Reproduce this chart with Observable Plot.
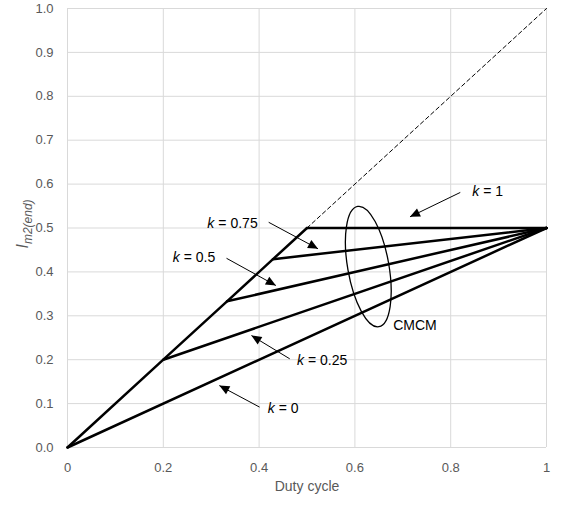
<!DOCTYPE html>
<html>
<head>
<meta charset="utf-8">
<script src="https://cdn.jsdelivr.net/npm/d3@7"></script>
<script src="https://cdn.jsdelivr.net/npm/@observablehq/plot@0.6"></script>
<style>
  html, body { margin: 0; padding: 0; background: #fff; }
  #chart { width: 563px; height: 506px; }
</style>
</head>
<body>
<div id="chart"></div>
<script>
// ---- data ----
const kLabels = ["0", "0.25", "0.5", "0.75", "1"];
const startDuty = [0, 0.2, 0.333, 0.429, 0.5];
const startCurrent = [0, 0.2, 0.333, 0.429, 0.5];
const endDuty = [1, 1, 1, 1, 1];
const endCurrent = [0.5, 0.5, 0.5, 0.5, 0.5];
const idealDuty = [0.5, 1];
const idealCurrent = [0.5, 1];

const xTicks = [0, 0.2, 0.4, 0.6, 0.8, 1];
const xTickLabels = ["0", "0.2", "0.4", "0.6", "0.8", "1"];
const yTicks = [0, 0.1, 0.2, 0.3, 0.4, 0.5, 0.6, 0.7, 0.8, 0.9, 1.0];
const yTickLabels = ["0.0", "0.1", "0.2", "0.3", "0.4", "0.5", "0.6", "0.7", "0.8", "0.9", "1.0"];

// annotations (data coordinates)
const annotValue = ["1", "0.75", "0.5", "0.25", "0"];
const annotX = [0.845, 0.292, 0.2196, 0.479, 0.418];
const annotY = [0.583, 0.511, 0.432, 0.198, 0.0895];
const arrowFromX = [0.82, 0.42, 0.332, 0.464, 0.401];
const arrowFromY = [0.581, 0.513, 0.431, 0.202, 0.092];
const arrowToX = [0.715, 0.523, 0.435, 0.384, 0.317];
const arrowToY = [0.5255, 0.4526, 0.369, 0.255, 0.141];

const ellipseCenter = [0.629, 0.411];
const ellipseRadii = [0.043, 0.139];
const ellipseTilt = -10;
const cmcmLabel = "CMCM";
const cmcmPos = [0.68, 0.278];

// ---- tables ----
const kLines = [];
kLabels.forEach((k, i) => {
  kLines.push({k, d: startDuty[i], i: startCurrent[i]});
  kLines.push({k, d: endDuty[i], i: endCurrent[i]});
});
const boundary = startDuty.map((d, i) => ({d, i: startCurrent[i]}));
const ideal = idealDuty.map((d, i) => ({d, i: idealCurrent[i]}));
const annots = annotValue.map((v, i) => ({v, x: annotX[i], y: annotY[i]}));
const arrows = annotValue.map((v, i) => ({x1: arrowFromX[i], y1: arrowFromY[i], x2: arrowToX[i], y2: arrowToY[i]}));

const FONT = "Liberation Sans, Arial, sans-serif";
const GRID = "#d9d9d9";
const TICK = "#595959";

const plot = Plot.plot({
  width: 563,
  height: 506,
  marginTop: 8,
  marginRight: 17,
  marginBottom: 59,
  marginLeft: 67,
  style: {fontFamily: FONT, background: "#fff"},
  x: {domain: [0, 1], ticks: xTicks},
  y: {domain: [0, 1], ticks: yTicks},
  marks: [
    Plot.gridX(xTicks, {stroke: GRID, strokeOpacity: 1, strokeWidth: 1}),
    Plot.gridY(yTicks, {stroke: GRID, strokeOpacity: 1, strokeWidth: 1}),
    Plot.axisX(xTicks, {tickSize: 0, tickPadding: 15, fontSize: 13, fill: TICK, label: null,
      tickFormat: (d) => xTickLabels[xTicks.indexOf(d)]}),
    Plot.axisY(yTicks, {tickSize: 0, tickPadding: 14, fontSize: 13, fill: TICK, label: null,
      tickFormat: (d) => yTickLabels[yTicks.indexOf(d)]}),
    Plot.text(["Duty cycle"], {frameAnchor: "bottom", dy: 43, text: (d) => d, fontSize: 14, fill: TICK}),
    Plot.line(ideal, {x: "d", y: "i", stroke: "black", strokeWidth: 1, strokeDasharray: "4,3"}),
    Plot.line(boundary, {x: "d", y: "i", stroke: "black", strokeWidth: 2.5, strokeLinejoin: "miter"}),
    Plot.line(kLines, {x: "d", y: "i", z: "k", stroke: "black", strokeWidth: 2.5}),
    // ellipse
    Plot.dot([ellipseCenter], {
      x: (d) => d[0], y: (d) => d[1],
      render: (index, scales, values) => {
        const g = d3.create("svg:g");
        for (const j of index) {
          const cx = values.x[j], cy = values.y[j];
          const rx = scales.x(ellipseCenter[0] + ellipseRadii[0]) - scales.x(ellipseCenter[0]);
          const ry = scales.y(ellipseCenter[1]) - scales.y(ellipseCenter[1] + ellipseRadii[1]);
          g.append("ellipse").attr("cx", cx).attr("cy", cy).attr("rx", rx).attr("ry", ry)
            .attr("transform", `rotate(${ellipseTilt},${cx},${cy})`)
            .attr("fill", "none").attr("stroke", "black").attr("stroke-width", 1.3);
        }
        return g.node();
      }
    }),
    // arrows with filled heads
    Plot.link(arrows, {
      x1: "x1", y1: "y1", x2: "x2", y2: "y2", stroke: "black", strokeWidth: 1,
      render: (index, scales, values, dims, ctx, next) => {
        const g = next(index, scales, values, dims, ctx);
        const sel = d3.select(g);
        for (const j of index) {
          const X1 = values.x1[j], Y1 = values.y1[j], X2 = values.x2[j], Y2 = values.y2[j];
          const a = Math.atan2(Y2 - Y1, X2 - X1);
          const L = 10, W = 4.5;
          const bx = X2 - L * Math.cos(a), by = Y2 - L * Math.sin(a);
          const p1 = [bx + W * Math.sin(a), by - W * Math.cos(a)];
          const p2 = [bx - W * Math.sin(a), by + W * Math.cos(a)];
          sel.append("path").attr("d", `M${X2},${Y2}L${p1[0]},${p1[1]}L${p2[0]},${p2[1]}Z`)
            .attr("fill", "black").attr("stroke", "none");
        }
        return g;
      }
    }),
    Plot.text(annots, {x: "x", y: "y", text: () => "k", textAnchor: "start", fontStyle: "italic", fontSize: 14, fill: "black"}),
    Plot.text(annots, {x: "x", y: "y", text: (d) => "= " + d.v, textAnchor: "start", dx: 11, fontSize: 14, fill: "black"}),
    Plot.text([cmcmLabel], {x: () => cmcmPos[0], y: () => cmcmPos[1], text: (d) => d, textAnchor: "start", fontSize: 14, fill: "black"})
  ]
});

// y-axis label with subscript
const svg = d3.select(plot);
const yl = svg.append("text")
  .attr("transform", "translate(28,224) rotate(-90)")
  .attr("text-anchor", "middle")
  .attr("fill", TICK)
  .attr("font-family", FONT)
  .attr("font-style", "italic");
yl.append("tspan").attr("font-size", 16).text("I");
yl.append("tspan").attr("font-size", 12).attr("dy", 3.5).text("m2(end)");

document.getElementById("chart").appendChild(plot);
</script>
</body>
</html>
